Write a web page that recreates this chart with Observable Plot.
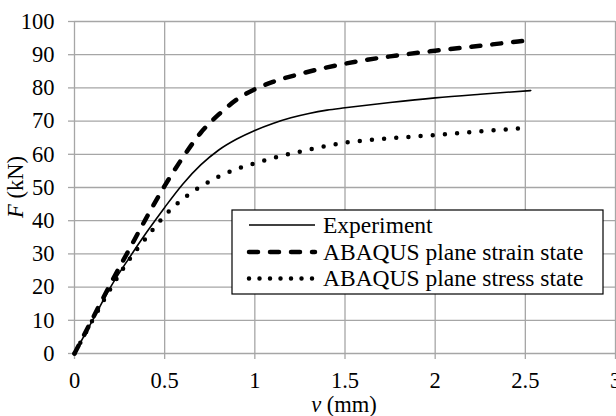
<!DOCTYPE html>
<html><head><meta charset="utf-8">
<script src="https://cdn.jsdelivr.net/npm/d3@7"></script>
<script src="https://cdn.jsdelivr.net/npm/@observablehq/plot@0.6"></script>
<style>body{margin:0;background:#fff} svg{display:block}</style>
</head><body><div id="chart"></div>
<script>
const xTicks = [0, 0.5, 1, 1.5, 2, 2.5, 3];
const yTicks = [0, 10, 20, 30, 40, 50, 60, 70, 80, 90, 100];

const seriesNames = ["Experiment", "ABAQUS plane strain state", "ABAQUS plane stress state"];

const expX = [0, 0.1, 0.2, 0.3, 0.4, 0.5, 0.6, 0.7, 0.8, 0.9, 1.0, 1.1, 1.2, 1.3, 1.4, 1.5, 1.75, 2.0, 2.25, 2.53];
const expY = [0, 10, 20, 28.5, 36.5, 44, 51, 56.8, 61.3, 64.6, 67.2, 69.3, 71, 72.3, 73.3, 74, 75.6, 77, 78.1, 79.2];

const strainX = [0, 0.1, 0.2, 0.3, 0.4, 0.5, 0.6, 0.7, 0.8, 0.9, 1.0, 1.1, 1.25, 1.5, 1.75, 2.0, 2.25, 2.51];
const strainY = [0, 10.5, 21, 31, 41, 50.5, 59, 66.5, 72, 76.5, 79.6, 81.8, 84.2, 87.3, 89.5, 91.2, 92.7, 94.3];

const stressX = [0, 0.1, 0.2, 0.3, 0.4, 0.5, 0.6, 0.7, 0.8, 0.9, 1.0, 1.1, 1.25, 1.5, 1.75, 2.0, 2.25, 2.47];
const stressY = [0, 10, 19.5, 28, 35, 41.5, 46.5, 50.3, 53.3, 55.6, 57.3, 58.9, 60.8, 63.5, 64.8, 65.8, 66.9, 67.8];

const rows = (xs, ys) => xs.map((x, i) => ({x, y: ys[i]}));
const exp = rows(expX, expY);
const strain = rows(strainX, strainY);
const stress = rows(stressX, stressY);

const grid = "#a6a6a6";
const font = "'Liberation Serif', 'Times New Roman', serif";
const fs = 22.5;

const strainStyle = {stroke: "black", strokeWidth: 4.5, strokeDasharray: "9,12", strokeLinecap: "round"};
const stressStyle = {stroke: "black", strokeWidth: 4.5, strokeDasharray: "0,12.2", strokeLinecap: "round"};
const expStyle = {stroke: "black", strokeWidth: 1.6};

const plot = Plot.plot({
  width: 616, height: 416,
  marginLeft: 74, marginRight: 1, marginTop: 21, marginBottom: 63,
  style: {fontSize: fs + "px", color: "black", background: "white", fontFamily: font},
  x: {domain: [0, 3]},
  y: {domain: [0, 100]},
  marks: [
    Plot.ruleY(yTicks, {stroke: grid, strokeWidth: 1.3}),
    Plot.ruleX(xTicks, {stroke: grid, strokeWidth: 1.3}),
    Plot.axisY({ticks: yTicks, tickSize: 6, tickPadding: 14, label: null, fontSize: fs, tickFormat: d => String(d)}),
    Plot.axisX({ticks: xTicks, tickSize: 6, tickPadding: 13, label: null, fontSize: fs, tickFormat: d => String(d)}),
    Plot.line(exp, {x: "x", y: "y", curve: "monotone-x", ...expStyle}),
    Plot.line(strain, {x: "x", y: "y", curve: "monotone-x", ...strainStyle}),
    Plot.line(stress, {x: "x", y: "y", curve: "monotone-x", ...stressStyle})
  ]
});

const svg = d3.select(plot);
svg.selectAll("g[aria-label='x-axis tick'], g[aria-label='y-axis tick']")
  .attr("stroke", grid).attr("stroke-width", 1.3);

// axis titles
const xl = svg.append("text").attr("x", 344).attr("y", 412).attr("text-anchor", "middle")
  .style("font-size", fs + "px");
xl.append("tspan").style("font-style", "italic").text("v");
xl.append("tspan").text(" (mm)");

const yl = svg.append("text").attr("transform", "translate(23,187) rotate(-90)").attr("text-anchor", "middle")
  .style("font-size", fs + "px");
yl.append("tspan").style("font-style", "italic").text("F");
yl.append("tspan").text(" (kN)");

// legend
const lg = svg.append("g");
lg.append("rect").attr("x", 232).attr("y", 210).attr("width", 371).attr("height", 84)
  .attr("fill", "white").attr("stroke", "black").attr("stroke-width", 1.2);
const styles = [expStyle, strainStyle, {...stressStyle, strokeDasharray: "0,10.5"}];
const rowY = [225, 252, 278.5];
seriesNames.forEach((name, i) => {
  const s = styles[i];
  lg.append("line").attr("x1", 249).attr("x2", 315).attr("y1", rowY[i]).attr("y2", rowY[i])
    .attr("stroke", s.stroke).attr("stroke-width", s.strokeWidth)
    .attr("stroke-dasharray", s.strokeDasharray || null).attr("stroke-linecap", s.strokeLinecap || null);
  lg.append("text").attr("x", 323).attr("y", rowY[i]).attr("dy", "0.33em").attr("text-anchor", "start")
    .style("font-size", "23.5px").text(name);
});

svg.selectAll("text").style("font-family", font).style("fill", "black");

document.getElementById("chart").appendChild(plot);
</script>
</body></html>
